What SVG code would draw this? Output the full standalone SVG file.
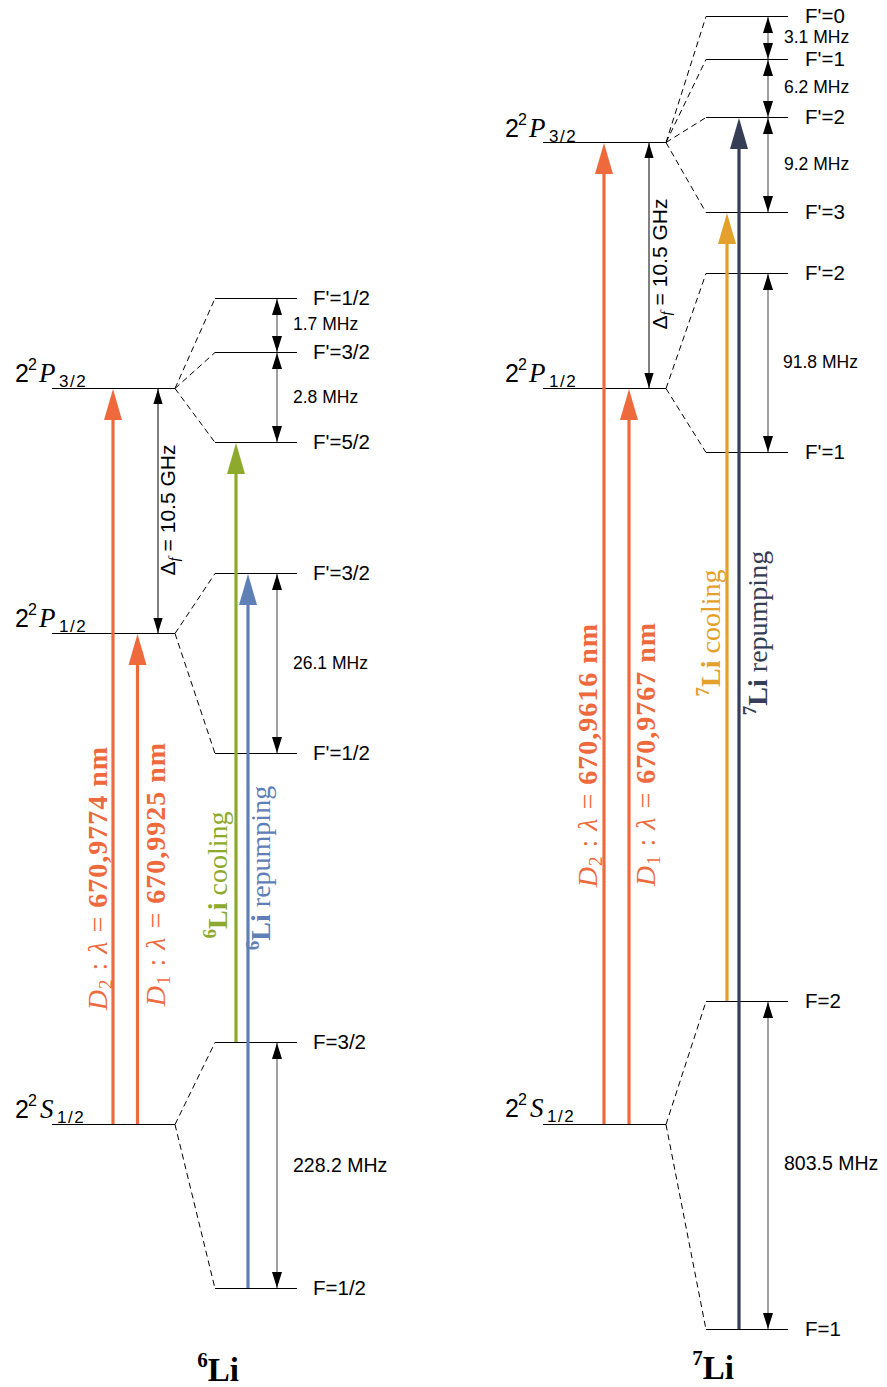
<svg xmlns="http://www.w3.org/2000/svg" width="887" height="1387" viewBox="0 0 887 1387">
<style>
.lvl{stroke:#000;stroke-width:1;fill:none}
.dash{stroke:#000;stroke-width:1;stroke-dasharray:6 4;fill:none}
.gap{stroke:#808080;stroke-width:1.5;fill:none;marker-start:url(#hk);marker-end:url(#hk)}
.df{stroke:#000;stroke-width:1;fill:none;marker-start:url(#hk2);marker-end:url(#hk2)}
.sans{font-family:"Liberation Sans",Arial,Helvetica,sans-serif}
.flab{font-family:"Liberation Sans",Arial,Helvetica,sans-serif;font-size:20.5px;fill:#000}
.mhz{font-family:"Liberation Sans",Arial,Helvetica,sans-serif;font-size:17.5px;fill:#000}
.mhzb{font-family:"Liberation Sans",Arial,Helvetica,sans-serif;font-size:19.5px;fill:#000}
.term{font-family:"Liberation Sans",Arial,Helvetica,sans-serif;font-size:25px;fill:#000}
.it{font-family:"Liberation Serif","Times New Roman",serif;font-style:italic}
.rot{font-family:"Liberation Serif","Times New Roman",serif;font-size:28px;text-anchor:middle}
.rotd{letter-spacing:1px}
.iso{font-family:"Liberation Serif","Times New Roman",serif;font-size:33px;font-weight:bold;text-anchor:middle;fill:#000}
.thick{stroke-width:3.2;fill:none}
</style>
<defs>
<marker id="hk" markerUnits="userSpaceOnUse" markerWidth="16" markerHeight="10" viewBox="0 -5 16 10" refX="16" refY="0" orient="auto-start-reverse"><path d="M0,-5 L16,0 L0,5 Z" fill="#000"/></marker>
<marker id="hk2" markerUnits="userSpaceOnUse" markerWidth="15" markerHeight="10" viewBox="0 -5 15 10" refX="15" refY="0" orient="auto-start-reverse"><path d="M0,-4.6 L15,0 L0,4.6 Z" fill="#000"/></marker>
<marker id="hOr" markerUnits="userSpaceOnUse" markerWidth="32" markerHeight="20" viewBox="0 -10 32 20" refX="21" refY="0" orient="auto"><path d="M0,-9 L31,0 L0,9 Z" fill="#EE6A3C"/></marker>
<marker id="hGr" markerUnits="userSpaceOnUse" markerWidth="32" markerHeight="20" viewBox="0 -10 32 20" refX="21" refY="0" orient="auto"><path d="M0,-9 L31,0 L0,9 Z" fill="#8DAA2C"/></marker>
<marker id="hBl" markerUnits="userSpaceOnUse" markerWidth="32" markerHeight="20" viewBox="0 -10 32 20" refX="21" refY="0" orient="auto"><path d="M0,-9 L31,0 L0,9 Z" fill="#5E80B6"/></marker>
<marker id="hYe" markerUnits="userSpaceOnUse" markerWidth="32" markerHeight="20" viewBox="0 -10 32 20" refX="21" refY="0" orient="auto"><path d="M0,-9 L31,0 L0,9 Z" fill="#E3A02B"/></marker>
<marker id="hNv" markerUnits="userSpaceOnUse" markerWidth="32" markerHeight="20" viewBox="0 -10 32 20" refX="21" refY="0" orient="auto"><path d="M0,-9 L31,0 L0,9 Z" fill="#363E56"/></marker>
</defs>
<rect width="887" height="1387" fill="#fff"/>

<!-- ===== 6Li ===== -->
<g id="li6-P32">
<line class="lvl" x1="52" y1="388.5" x2="175" y2="388.5"/>
<text class="term" y="382"><tspan x="15">2</tspan><tspan x="28" dy="-12" font-size="16">2</tspan><tspan x="39" dy="12" class="it" font-size="27">P</tspan><tspan x="59" dy="5" font-size="17" letter-spacing="1.5">3/2</tspan></text>
</g>
<g id="li6-P12">
<line class="lvl" x1="52" y1="633.5" x2="175" y2="633.5"/>
<text class="term" y="627"><tspan x="15">2</tspan><tspan x="28" dy="-12" font-size="16">2</tspan><tspan x="39" dy="12" class="it" font-size="27">P</tspan><tspan x="59" dy="5" font-size="17" letter-spacing="1.5">1/2</tspan></text>
</g>
<g id="li6-S12">
<line class="lvl" x1="52" y1="1124.5" x2="175" y2="1124.5"/>
<text class="term" y="1118"><tspan x="15">2</tspan><tspan x="28" dy="-12" font-size="16">2</tspan><tspan x="40" dy="12" class="it" font-size="27">S</tspan><tspan x="57" dy="5" font-size="17" letter-spacing="1.5">1/2</tspan></text>
</g>
<g id="li6-P32-F12"><line class="lvl" x1="215" y1="298.5" x2="297" y2="298.5"/><text class="flab" x="313" y="305">F'=1/2</text></g>
<g id="li6-P32-F32"><line class="lvl" x1="215" y1="352.5" x2="297" y2="352.5"/><text class="flab" x="313" y="359">F'=3/2</text></g>
<g id="li6-P32-F52"><line class="lvl" x1="215" y1="442.5" x2="297" y2="442.5"/><text class="flab" x="313" y="449">F'=5/2</text></g>
<g id="li6-P12-F32"><line class="lvl" x1="215" y1="573.5" x2="297" y2="573.5"/><text class="flab" x="313" y="580">F'=3/2</text></g>
<g id="li6-P12-F12"><line class="lvl" x1="215" y1="753.5" x2="297" y2="753.5"/><text class="flab" x="313" y="760">F'=1/2</text></g>
<g id="li6-S12-F32"><line class="lvl" x1="215" y1="1042.5" x2="297" y2="1042.5"/><text class="flab" x="313" y="1049">F=3/2</text></g>
<g id="li6-S12-F12"><line class="lvl" x1="215" y1="1288.5" x2="297" y2="1288.5"/><text class="flab" x="313" y="1295">F=1/2</text></g>

<!-- ===== 7Li ===== -->
<g id="li7-P32">
<line class="lvl" x1="543" y1="142.5" x2="666" y2="142.5"/>
<text class="term" y="137"><tspan x="505">2</tspan><tspan x="518" dy="-12" font-size="16">2</tspan><tspan x="529" dy="12" class="it" font-size="27">P</tspan><tspan x="549" dy="5" font-size="17" letter-spacing="1.5">3/2</tspan></text>
</g>
<g id="li7-P12">
<line class="lvl" x1="543" y1="388.5" x2="666" y2="388.5"/>
<text class="term" y="382"><tspan x="505">2</tspan><tspan x="518" dy="-12" font-size="16">2</tspan><tspan x="529" dy="12" class="it" font-size="27">P</tspan><tspan x="549" dy="5" font-size="17" letter-spacing="1.5">1/2</tspan></text>
</g>
<g id="li7-S12">
<line class="lvl" x1="543" y1="1124.5" x2="666" y2="1124.5"/>
<text class="term" y="1117"><tspan x="505">2</tspan><tspan x="518" dy="-12" font-size="16">2</tspan><tspan x="530" dy="12" class="it" font-size="27">S</tspan><tspan x="547" dy="5" font-size="17" letter-spacing="1.5">1/2</tspan></text>
</g>
<g id="li7-P32-F0"><line class="lvl" x1="706" y1="16.5" x2="788" y2="16.5"/><text class="flab" x="805" y="23">F'=0</text></g>
<g id="li7-P32-F1"><line class="lvl" x1="706" y1="59.5" x2="788" y2="59.5"/><text class="flab" x="805" y="66">F'=1</text></g>
<g id="li7-P32-F2"><line class="lvl" x1="706" y1="117.5" x2="788" y2="117.5"/><text class="flab" x="805" y="124">F'=2</text></g>
<g id="li7-P32-F3"><line class="lvl" x1="706" y1="212.5" x2="788" y2="212.5"/><text class="flab" x="805" y="219">F'=3</text></g>
<g id="li7-P12-F2"><line class="lvl" x1="706" y1="273.5" x2="788" y2="273.5"/><text class="flab" x="805" y="280">F'=2</text></g>
<g id="li7-P12-F1"><line class="lvl" x1="706" y1="452.5" x2="788" y2="452.5"/><text class="flab" x="805" y="459">F'=1</text></g>
<g id="li7-S12-F2"><line class="lvl" x1="706" y1="1001.5" x2="788" y2="1001.5"/><text class="flab" x="805" y="1008">F=2</text></g>
<g id="li7-S12-F1"><line class="lvl" x1="706" y1="1329.5" x2="788" y2="1329.5"/><text class="flab" x="805" y="1336">F=1</text></g>

<!-- ===== connectors ===== -->
<g id="connectors">
<path class="dash" d="M175,388.5 L215,298.5 M175,388.5 L215,352.5 M175,388.5 L215,442.5"/>
<path class="dash" d="M175,633.5 L215,573.5 M175,633.5 L215,753.5"/>
<path class="dash" d="M175,1124.5 L215,1042.5 M175,1124.5 L215,1288.5"/>
<path class="dash" d="M666,142.5 L706,16.5 M666,142.5 L706,59.5 M666,142.5 L706,117.5 M666,142.5 L706,212.5"/>
<path class="dash" d="M666,388.5 L706,273.5 M666,388.5 L706,452.5"/>
<path class="dash" d="M666,1124.5 L706,1001.5 M666,1124.5 L706,1329.5"/>

<line class="gap" x1="277" y1="299" x2="277" y2="352"/>
<line class="gap" x1="277" y1="353" x2="277" y2="442"/>
<line class="gap" x1="277" y1="574" x2="277" y2="753"/>
<line class="gap" x1="277" y1="1043" x2="277" y2="1288"/>
<line class="gap" x1="768" y1="17" x2="768" y2="59"/>
<line class="gap" x1="768" y1="60" x2="768" y2="117"/>
<line class="gap" x1="768" y1="118" x2="768" y2="212"/>
<line class="gap" x1="768" y1="274" x2="768" y2="452"/>
<line class="gap" x1="768" y1="1002" x2="768" y2="1329"/>

<line class="df" x1="158" y1="389" x2="158" y2="633"/>
<line class="df" x1="649" y1="143" x2="649" y2="388"/>

<line class="thick" stroke="#EE6A3C" x1="113" y1="1124" x2="113" y2="399" marker-end="url(#hOr)"/>
<line class="thick" stroke="#EE6A3C" x1="137.5" y1="1124" x2="137.5" y2="644" marker-end="url(#hOr)"/>
<line class="thick" stroke="#8DAA2C" x1="236" y1="1042" x2="236" y2="453" marker-end="url(#hGr)"/>
<line class="thick" stroke="#5E80B6" x1="248" y1="1288" x2="248" y2="584" marker-end="url(#hBl)"/>
<line class="thick" stroke="#EE6A3C" x1="604" y1="1124" x2="604" y2="153" marker-end="url(#hOr)"/>
<line class="thick" stroke="#EE6A3C" x1="629" y1="1124" x2="629" y2="399" marker-end="url(#hOr)"/>
<line class="thick" stroke="#E3A02B" x1="727" y1="1001" x2="727" y2="223" marker-end="url(#hYe)"/>
<line class="thick" stroke="#363E56" x1="739" y1="1329" x2="739" y2="128" marker-end="url(#hNv)"/>
</g>

<!-- ===== labels ===== -->
<g id="labels">
<text class="mhz" x="293" y="330">1.7 MHz</text>
<text class="mhz" x="293" y="403">2.8 MHz</text>
<text class="mhz" x="293" y="669">26.1 MHz</text>
<text class="mhzb" x="293" y="1172">228.2 MHz</text>
<text class="mhz" x="784" y="43">3.1 MHz</text>
<text class="mhz" x="784" y="93">6.2 MHz</text>
<text class="mhz" x="784" y="170">9.2 MHz</text>
<text class="mhz" x="783" y="368">91.8 MHz</text>
<text class="mhzb" x="784" y="1170">803.5 MHz</text>

<text class="sans" font-size="21" text-anchor="middle" transform="translate(175,510) rotate(-90)">Δ<tspan class="it" font-size="15" dy="4">f</tspan><tspan dy="-4"> = 10.5 GHz</tspan></text>
<text class="sans" font-size="21" text-anchor="middle" transform="translate(667,264) rotate(-90)">Δ<tspan class="it" font-size="15" dy="4">f</tspan><tspan dy="-4"> = 10.5 GHz</tspan></text>

<text class="rot rotd" fill="#EE6A3C" transform="translate(107,878) rotate(-90)"><tspan font-style="italic">D</tspan><tspan font-size="19" dy="5">2</tspan><tspan dy="-5"> : </tspan><tspan font-style="italic">λ</tspan><tspan> = </tspan><tspan font-weight="bold">670,9774 nm</tspan></text>
<text class="rot rotd" fill="#EE6A3C" transform="translate(165,874) rotate(-90)"><tspan font-style="italic">D</tspan><tspan font-size="19" dy="5">1</tspan><tspan dy="-5"> : </tspan><tspan font-style="italic">λ</tspan><tspan> = </tspan><tspan font-weight="bold">670,9925 nm</tspan></text>
<text class="rot" fill="#8DAA2C" transform="translate(227,875) rotate(-90)"><tspan font-size="19" font-weight="bold" dy="-11">6</tspan><tspan font-weight="bold" dy="11">Li</tspan><tspan> cooling</tspan></text>
<text class="rot" fill="#5E80B6" transform="translate(270,868) rotate(-90)"><tspan font-size="19" font-weight="bold" dy="-11">6</tspan><tspan font-weight="bold" dy="11">Li</tspan><tspan> repumping</tspan></text>

<text class="rot rotd" fill="#EE6A3C" transform="translate(597,755) rotate(-90)"><tspan font-style="italic">D</tspan><tspan font-size="19" dy="5">2</tspan><tspan dy="-5"> : </tspan><tspan font-style="italic">λ</tspan><tspan> = </tspan><tspan font-weight="bold">670,9616 nm</tspan></text>
<text class="rot rotd" fill="#EE6A3C" transform="translate(655,754) rotate(-90)"><tspan font-style="italic">D</tspan><tspan font-size="19" dy="5">1</tspan><tspan dy="-5"> : </tspan><tspan font-style="italic">λ</tspan><tspan> = </tspan><tspan font-weight="bold">670,9767 nm</tspan></text>
<text class="rot" fill="#E3A02B" transform="translate(720,633) rotate(-90)"><tspan font-size="19" font-weight="bold" dy="-11">7</tspan><tspan font-weight="bold" dy="11">Li</tspan><tspan> cooling</tspan></text>
<text class="rot" fill="#363E56" transform="translate(767,633) rotate(-90)"><tspan font-size="19" font-weight="bold" dy="-11">7</tspan><tspan font-weight="bold" dy="11">Li</tspan><tspan> repumping</tspan></text>

<text class="iso" x="218" y="1381"><tspan font-size="21" dy="-14">6</tspan><tspan dy="14">Li</tspan></text>
<text class="iso" x="713" y="1379"><tspan font-size="21" dy="-14">7</tspan><tspan dy="14">Li</tspan></text>
</g>
</svg>
